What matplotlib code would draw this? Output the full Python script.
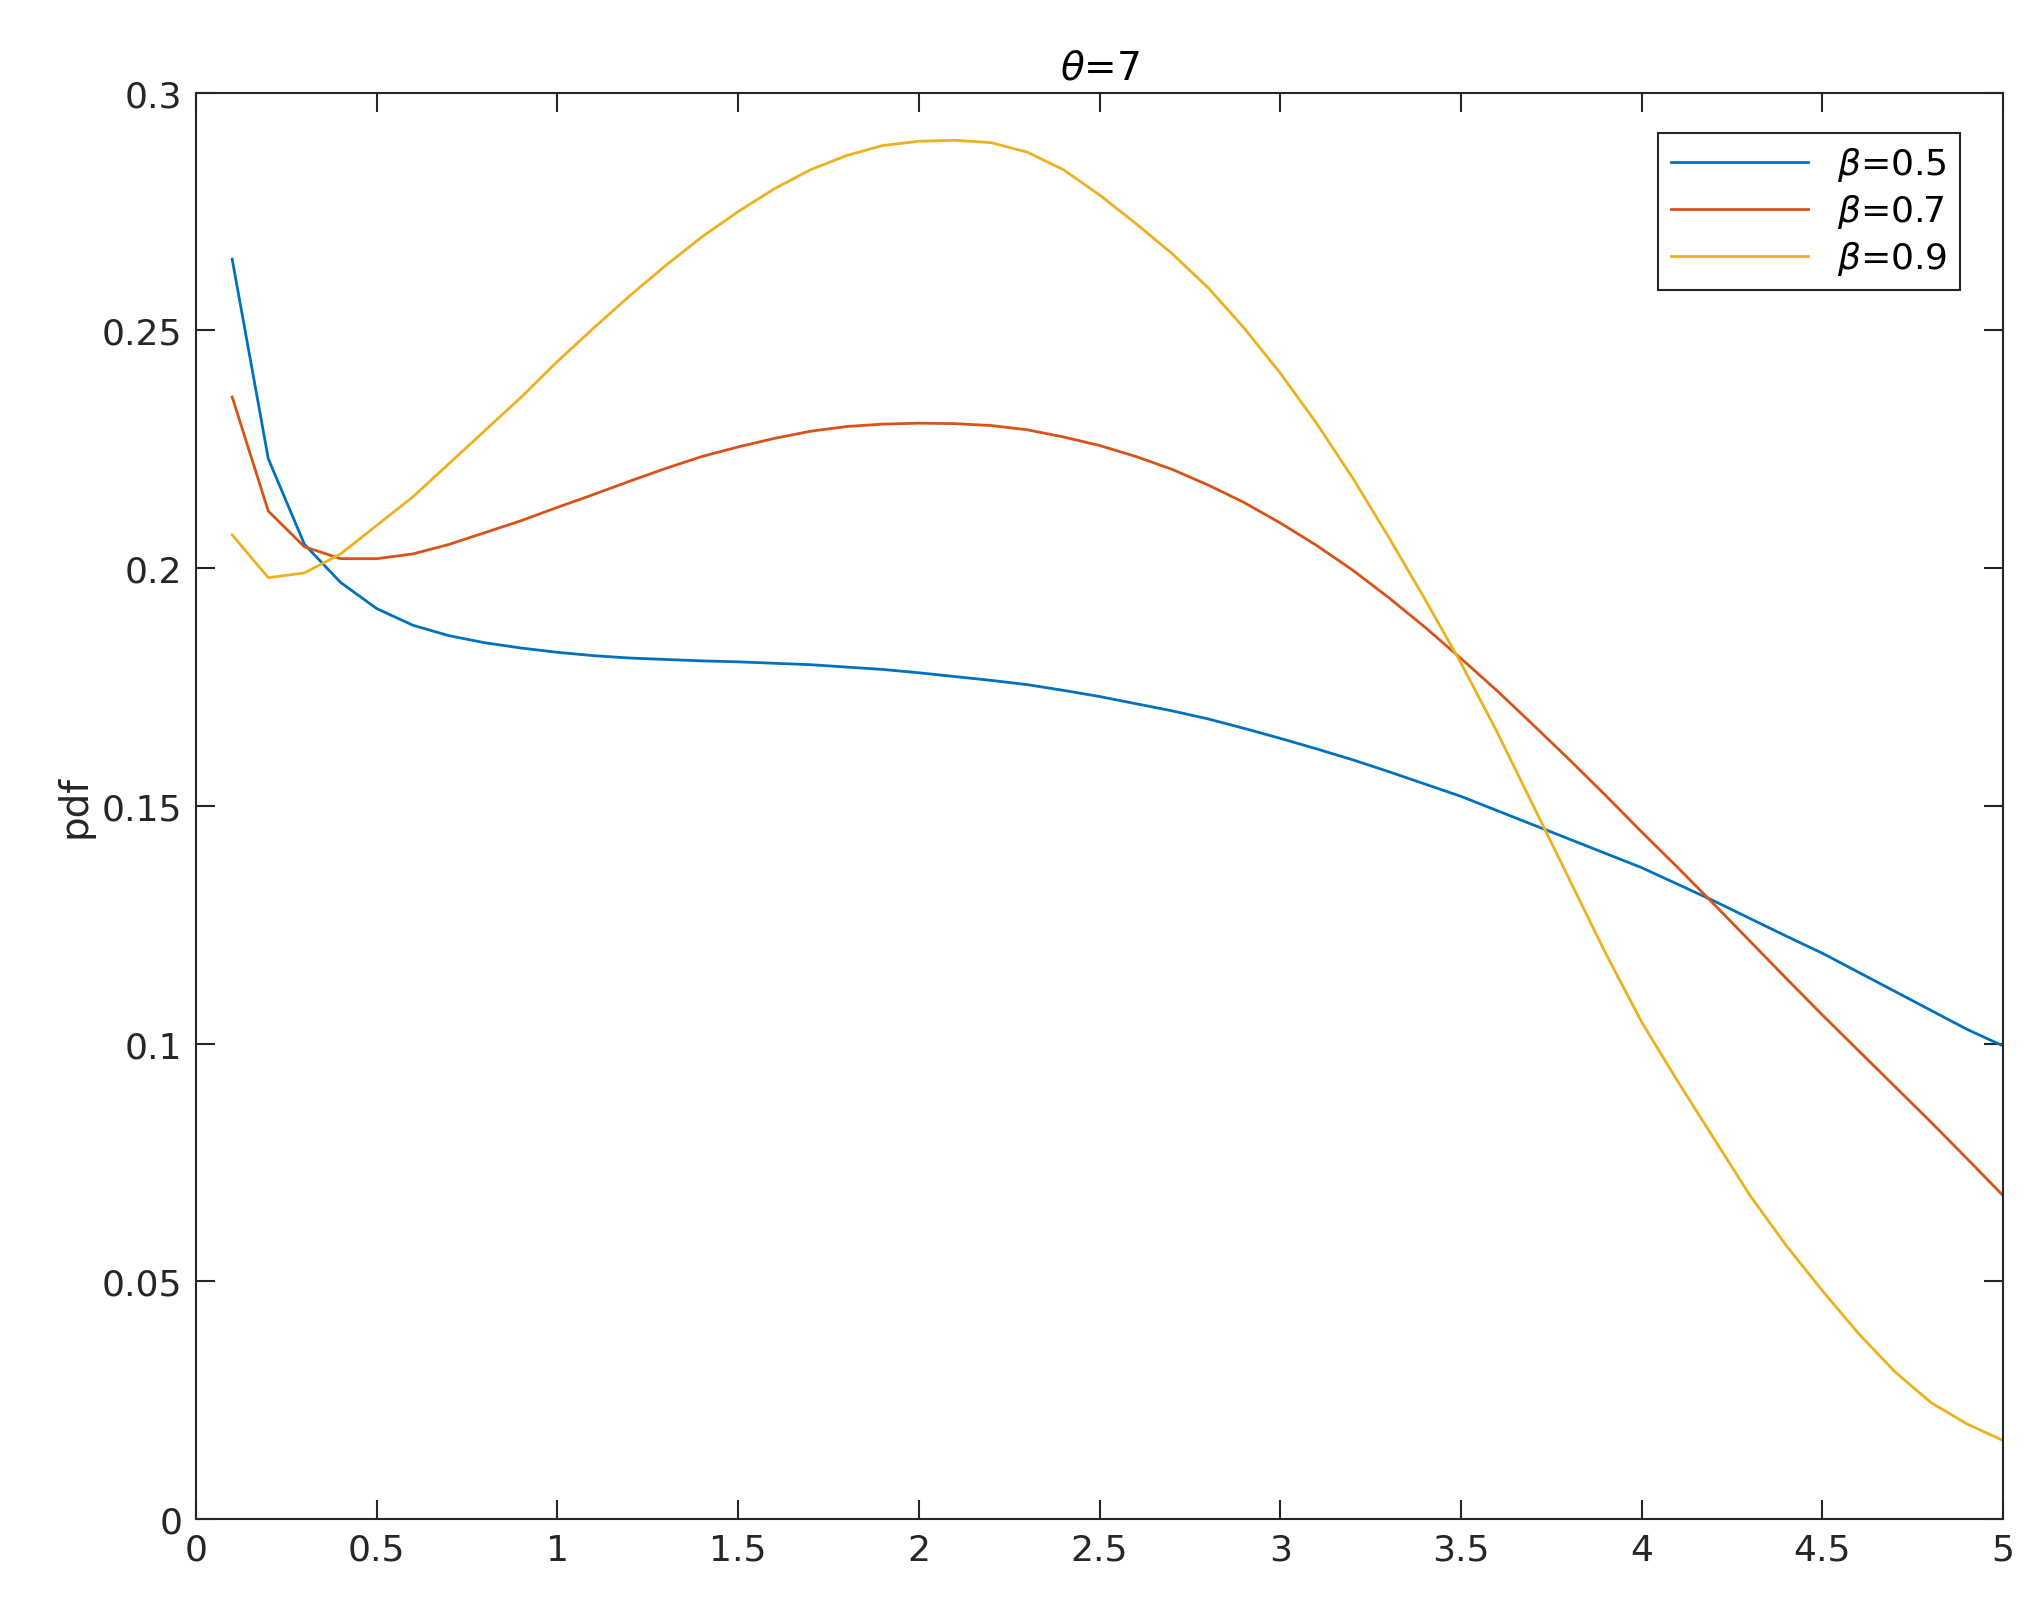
import numpy as np
import matplotlib
matplotlib.use("Agg")
import matplotlib.pyplot as plt

x = [round(0.1*i, 1) for i in range(1, 51)]
b05 = [.265,.223,.205,.197,.1915,.188,.1858,.1843,.1832,.1823,.1816,.1811,.1808,.1805,.1803,.18,.1797,.1792,.1787,.178,
       .1772,.1764,.1755,.1743,.173,.1715,.170,.1683,.1663,.1642,.162,.1597,.1572,.1546,.152,.149,.146,.143,.140,.137,
       .1335,.130,.1263,.1226,.119,.115,.111,.107,.103,.0995]
b07 = [.236,.212,.2045,.202,.202,.203,.205,.2075,.210,.2128,.2155,.2183,.221,.2235,.2255,.2273,.2288,.2298,.2303,.2305,
       .2304,.230,.2291,.2276,.2258,.2235,.2208,.2175,.2138,.2095,.2048,.1996,.1938,.1876,.181,.1742,.167,.1597,.1522,.1445,
       .137,.1293,.1215,.1137,.106,.0985,.091,.0835,.0758,.068]
b09 = [.207,.198,.199,.203,.209,.215,.222,.229,.236,.2435,.2505,.2573,.2637,.2697,.275,.2798,.2838,.2868,.2889,.2898,
       .290,.2895,.2875,.2838,.2785,.2725,.2662,.259,.2505,.241,.2305,.219,.2065,.1935,.180,.1655,.150,.1345,.119,.1045,
       .092,.080,.068,.0575,.048,.039,.031,.0245,.020,.0165]

fig = plt.figure(figsize=(20.42, 16.08), dpi=100)
ax = fig.add_axes([0.096, 0.0547, 0.885, 0.887])
ax.plot(x, b05, color="#0072BD", lw=2, label=r"$\beta$=0.5")
ax.plot(x, b07, color="#D95319", lw=2, label=r"$\beta$=0.7")
ax.plot(x, b09, color="#EDB120", lw=2, label=r"$\beta$=0.9")
ax.set_xlim(0, 5); ax.set_ylim(0, 0.3)
ax.set_xticks(np.arange(0, 5.01, 0.5)); ax.set_xticklabels(["0","0.5","1","1.5","2","2.5","3","3.5","4","4.5","5"])
ax.set_yticks(np.arange(0, 0.301, 0.05)); ax.set_yticklabels(["0","0.05","0.1","0.15","0.2","0.25","0.3"])
ax.tick_params(direction="in", top=True, right=True, labelsize=26, length=14, width=1.5, colors="#262626", pad=10)
for s in ax.spines.values():
    s.set_linewidth(1.5); s.set_color("#262626")
ax.set_ylabel("pdf", fontsize=28, color="#262626", labelpad=6)
ax.set_title(r"$\theta$=7", fontsize=28, pad=10)
leg = ax.legend(loc="upper right", fontsize=26, fancybox=False, edgecolor="#262626", framealpha=1,
                bbox_to_anchor=(0.976, 0.972), borderaxespad=0, handlelength=3.8, labelspacing=0.25,
                borderpad=0.35)
leg.get_frame().set_linewidth(1.5)
fig.savefig("out.png", dpi=100, facecolor="white")
